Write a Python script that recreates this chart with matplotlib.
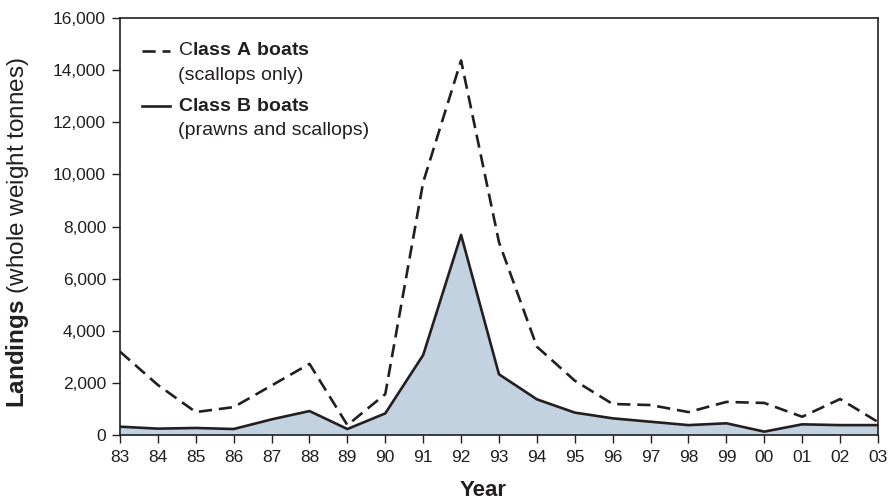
import numpy as np
import matplotlib.pyplot as plt
from matplotlib.lines import Line2D

plt.rcParams['font.family'] = ['Liberation Sans', 'DejaVu Sans']
plt.rcParams['mathtext.fontset'] = 'custom'
plt.rcParams['mathtext.rm'] = 'Liberation Sans'
plt.rcParams['mathtext.bf'] = 'Liberation Sans:bold'

years = ['83', '84', '85', '86', '87', '88', '89', '90', '91', '92', '93',
         '94', '95', '96', '97', '98', '99', '00', '01', '02', '03']
class_a = [3200, 1920, 880, 1070, 1900, 2730, 380, 1570, 9700, 14370, 7400,
           3390, 2085, 1190, 1150, 880, 1270, 1230, 700, 1380, 500]
class_b = [320, 245, 270, 230, 600, 920, 230, 830, 3070, 7680, 2330,
           1370, 860, 640, 510, 380, 450, 130, 410, 380, 380]

txt = '#231f20'
x = np.arange(len(years))

fig = plt.figure(figsize=(8.9, 5.01), dpi=100)
ax = fig.add_axes([0.1348, 0.1317, 0.8517, 0.8323])

ax.fill_between(x, 0, class_b, color='#c3d2e0', lw=0)
ax.plot(x, class_b, color=txt, lw=1.9)
ax.plot(x, class_a, color=txt, lw=1.9, dashes=(5, 2.6))

ax.set_xlim(0, len(years) - 1)
ax.set_ylim(0, 16000)
ax.set_xticks(x)
ax.set_xticklabels(years)
ax.set_yticks(np.arange(0, 16001, 2000))
ax.set_yticklabels([f'{v:,}' for v in range(0, 16001, 2000)])
ax.tick_params(direction='out', length=6, width=1, colors=txt, labelsize=12.5)
ax.tick_params(axis='x', pad=5)
ax.tick_params(axis='y', pad=4)
for s in ax.spines.values():
    s.set_color(txt)
    s.set_linewidth(1.2)

ax.set_xlabel('Year', fontsize=16, fontweight='bold', color=txt)
ax.xaxis.set_label_coords(0.479, -0.108)
ax.set_ylabel(r'$\bf{Landings}$ (whole weight tonnes)', fontsize=17.5, color=txt)
ax.yaxis.set_label_coords(-0.117, 0.486)

# legend drawn by hand so the key sits on the first line of each entry
leg_items = [((5, 2.6), 'C$\\bf{lass\\ A\\ boats}$', '(scallops only)', 0.921),
             (None, '$\\bf{Class\\ B\\ boats}$', '(prawns and scallops)', 0.789)]
for dash, head, sub, yy in leg_items:
    ln = Line2D([0.029, 0.066], [yy, yy], transform=ax.transAxes, color=txt, lw=1.9)
    if dash:
        ln.set_dashes(dash)
    ax.add_line(ln)
    ax.text(0.0765, yy, head, transform=ax.transAxes, fontsize=14, color=txt, va='center')
    ax.text(0.0765, yy - 0.058, sub, transform=ax.transAxes, fontsize=14, color=txt, va='center')

fig.savefig('out.png', dpi=100)
